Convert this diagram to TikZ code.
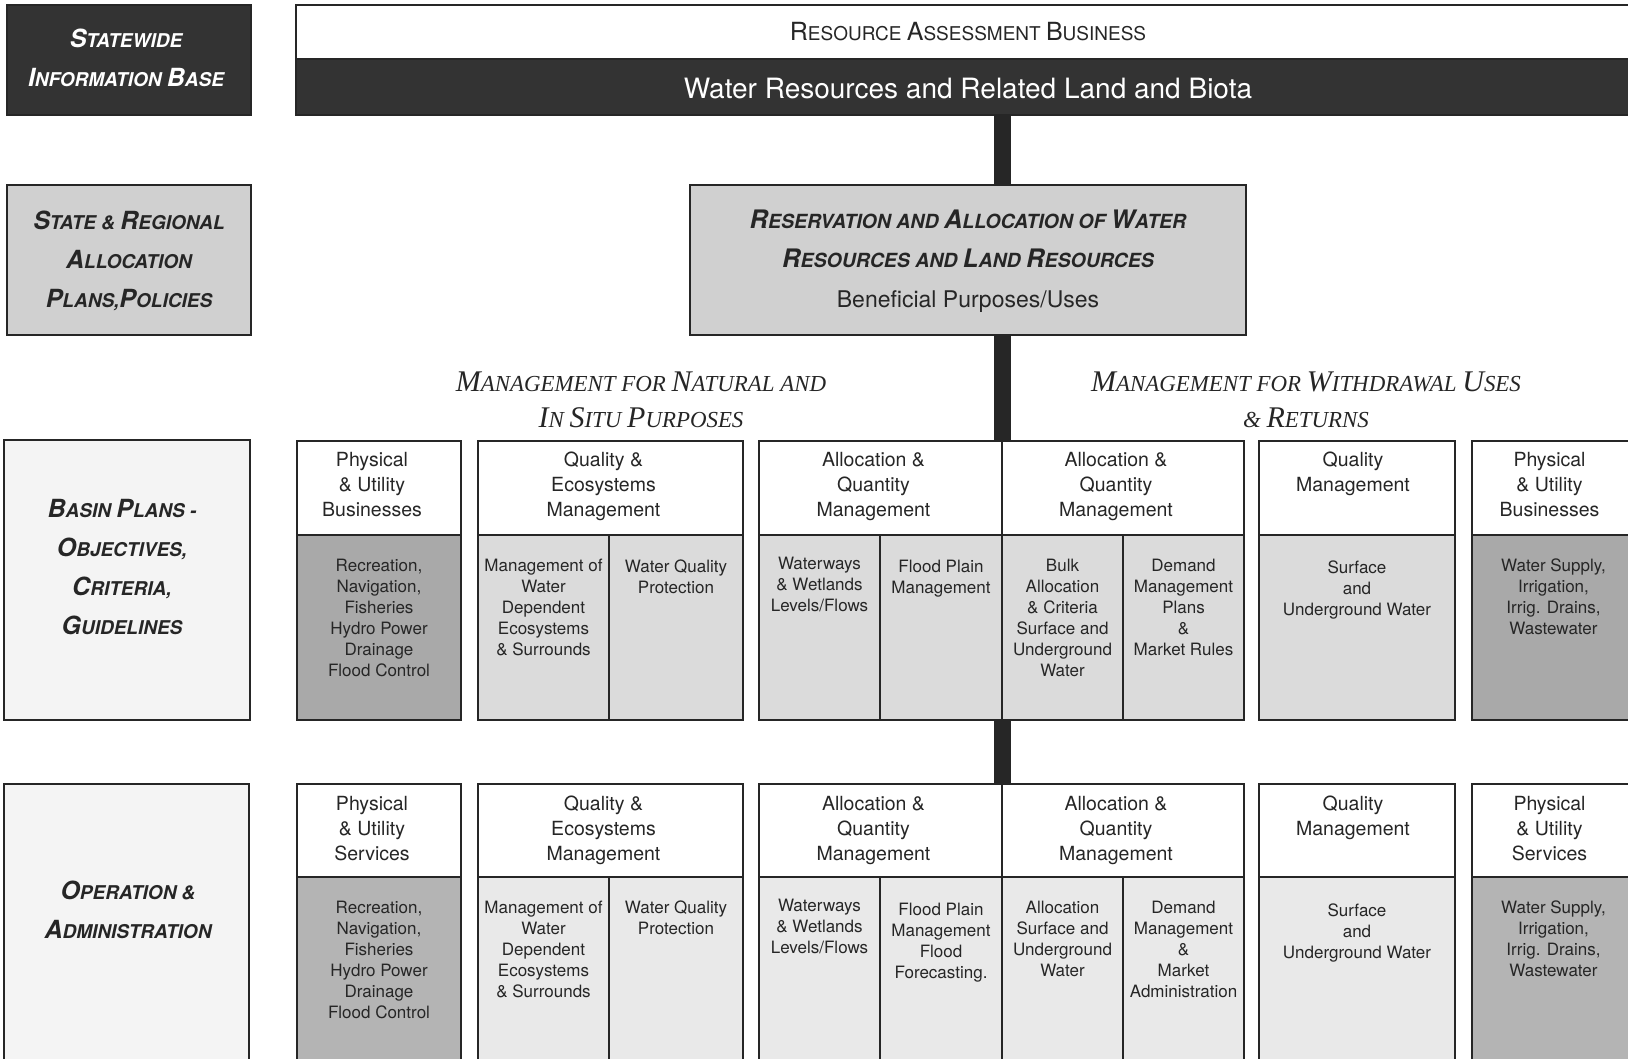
\documentclass[tikz,border=0pt]{standalone}
\usepackage{fontspec}
\setmainfont{TeX Gyre Heros}
\newfontfamily\headfont{Liberation Serif}
\definecolor{ink}{HTML}{262626}
\definecolor{darkfill}{HTML}{333333}
\definecolor{midfill}{HTML}{D0D0D0}
\definecolor{cellA}{HTML}{DBDBDB}
\definecolor{cellB}{HTML}{A9A9A9}
\definecolor{cellC}{HTML}{E9E9E9}
\definecolor{cellD}{HTML}{B4B4B4}
\definecolor{paper}{HTML}{F4F4F4}
\newcommand\Bg[1]{{\fontsize{25}{25}\selectfont #1}}
\newcommand\Bgg[1]{{\fontsize{25.5}{25.5}\selectfont #1}}
\newcommand\Bh[1]{{\fontsize{30}{30}\selectfont #1}}
\newcommand\cellbox[6]{\node[boxframe,#2,minimum width={(#5)-(#3)},minimum height={(#6)-(#4)}] (#1) at (#3,#4) {};}
\begin{document}
\begin{tikzpicture}[x=1pt,y=-1pt,
  boxframe/.style={draw=ink,line width=1.8pt,inner sep=0pt,outer sep=0pt,anchor=north west},
  trunk/.style={draw=ink,line width=17pt},
  lab/.style={inner sep=0pt,align=center,text=ink,font=\fontsize{19}{39}\selectfont\bfseries\itshape},
  head/.style={inner sep=0pt,align=center,text=ink,font=\headfont\itshape\fontsize{22.9}{36}\selectfont},
  htxt/.style={inner sep=0pt,align=center,anchor=north,text=ink,font=\fontsize{19.5}{25}\selectfont},
  ltxt/.style={inner sep=0pt,align=center,anchor=north,text=ink,font=\fontsize{17}{21}\selectfont}]
\useasboundingbox (0,0) rectangle (1628,1058);
\clip (0,0) rectangle (1628,1058);
\fill[white] (0,0) rectangle (1628,1058);

% left column labels
\cellbox{sib}{fill=darkfill}{7}{5}{251}{115}
\cellbox{srap}{fill=midfill}{7}{185}{251}{335}
\cellbox{basin}{fill=paper}{4}{440}{250}{720}
\cellbox{opad}{fill=paper}{4}{784}{249}{1075}

% top band
\cellbox{rab}{fill=white}{296}{5}{1650}{59}
\cellbox{wrl}{fill=darkfill}{296}{59}{1650}{115}

% reservation
\cellbox{res}{fill=midfill}{690}{185}{1246}{335}

% row 3
\cellbox{p3h}{fill=white}{297}{441}{461}{535}
\cellbox{p3l}{fill=cellB}{297}{535}{461}{720}
\cellbox{q3h}{fill=white}{478}{441}{743}{535}
\cellbox{q3la}{fill=cellA}{478}{535}{609}{720}
\cellbox{q3lb}{fill=cellA}{609}{535}{743}{720}
\cellbox{a3h}{fill=white}{759}{441}{1002}{535}
\cellbox{a3la}{fill=cellA}{759}{535}{880}{720}
\cellbox{a3lb}{fill=cellA}{880}{535}{1002}{720}
\cellbox{b3h}{fill=white}{1002}{441}{1244}{535}
\cellbox{b3la}{fill=cellA}{1002}{535}{1123}{720}
\cellbox{b3lb}{fill=cellA}{1123}{535}{1244}{720}
\cellbox{s3h}{fill=white}{1259}{441}{1455}{535}
\cellbox{s3l}{fill=cellA}{1259}{535}{1455}{720}
\cellbox{u3h}{fill=white}{1472}{441}{1635}{535}
\cellbox{u3l}{fill=cellB}{1472}{535}{1635}{720}

% row 4
\cellbox{p4h}{fill=white}{297}{784}{461}{877}
\cellbox{p4l}{fill=cellD}{297}{877}{461}{1075}
\cellbox{q4h}{fill=white}{478}{784}{743}{877}
\cellbox{q4la}{fill=cellC}{478}{877}{609}{1075}
\cellbox{q4lb}{fill=cellC}{609}{877}{743}{1075}
\cellbox{a4h}{fill=white}{759}{784}{1002}{877}
\cellbox{a4la}{fill=cellC}{759}{877}{880}{1075}
\cellbox{a4lb}{fill=cellC}{880}{877}{1002}{1075}
\cellbox{b4h}{fill=white}{1002}{784}{1244}{877}
\cellbox{b4la}{fill=cellC}{1002}{877}{1123}{1075}
\cellbox{b4lb}{fill=cellC}{1123}{877}{1244}{1075}
\cellbox{s4h}{fill=white}{1259}{784}{1455}{877}
\cellbox{s4l}{fill=cellC}{1259}{877}{1455}{1075}
\cellbox{u4h}{fill=white}{1472}{784}{1635}{877}
\cellbox{u4l}{fill=cellD}{1472}{877}{1635}{1075}

% trunk
\draw[trunk] (a3h.north east |- wrl.south) -- (a3h.north east |- res.north);
\draw[trunk] (a3h.north east |- res.south) -- (a3h.north east);
\draw[trunk] (a3lb.south east) -- (a4h.north east);

% label texts
\node[lab,text=white] (sibt) at (126,58) {\Bg{S}TATEWIDE\\\Bg{I}NFORMATION \Bg{B}ASE};
\node[lab] (srapt) at (129,261) {\Bg{S}TATE \& \Bg{R}EGIONAL\\\Bg{A}LLOCATION\\\Bg{P}LANS,\Bg{P}OLICIES};
\node[lab] (basint) at (122,567) {\Bg{B}ASIN \Bg{P}LANS -\\\Bg{O}BJECTIVES,\\\Bg{C}RITERIA,\\\Bg{G}UIDELINES};
\node[lab] (opadt) at (128,910) {\Bg{O}PERATION \&\\\Bg{A}DMINISTRATION};

\node[inner sep=0pt,text=ink,font=\fontsize{19}{19}\selectfont] (rabt) at (968,32) {\Bg{R}ESOURCE \Bg{A}SSESSMENT \Bg{B}USINESS};
\node[inner sep=0pt,text=white,font=\fontsize{28}{28}\selectfont] (wrlt) at (968,89) {Water Resources and Related Land and Biota};

\node[lab,font=\fontsize{19.5}{39}\selectfont\bfseries\itshape] (rest) at (968,239) {\Bgg{R}ESERVATION AND \Bgg{A}LLOCATION OF \Bgg{W}ATER\\\Bgg{R}ESOURCES AND \Bgg{L}AND \Bgg{R}ESOURCES};
\node[inner sep=0pt,text=ink,font=\fontsize{23}{23}\selectfont] (resu) at (968,302) {Beneficial Purposes/Uses};

% headings
\node[head] (hl) at (641,400) {\Bh{M}ANAGEMENT FOR \Bh{N}ATURAL AND\\\Bh{I}N \Bh{S}ITU \Bh{P}URPOSES};
\node[head] (hr) at (1306,400) {\Bh{M}ANAGEMENT FOR \Bh{W}ITHDRAWAL \Bh{U}SES\\\& \Bh{R}ETURNS};

% row 3 texts
\node[htxt] (p3ht) at ([xshift=-7pt,yshift=-11pt]p3h.north) {Physical\\\& Utility\\Businesses};
\node[htxt] (q3ht) at ([xshift=-7pt,yshift=-11pt]q3h.north) {Quality \&\\Ecosystems\\Management};
\node[htxt] (a3ht) at ([xshift=-7pt,yshift=-11pt]a3h.north) {Allocation \&\\Quantity\\Management};
\node[htxt] (b3ht) at ([xshift=-7pt,yshift=-11pt]b3h.north) {Allocation \&\\Quantity\\Management};
\node[htxt] (s3ht) at ([xshift=-4pt,yshift=-11pt]s3h.north) {Quality\\Management};
\node[htxt] (u3ht) at ([xshift=-4pt,yshift=-11pt]u3h.north) {Physical\\\& Utility\\Businesses};

\node[ltxt] (p3lt) at ([yshift=-24pt]p3l.north) {Recreation,\\Navigation,\\Fisheries\\Hydro Power\\Drainage\\Flood Control};
\node[ltxt] (q3lat) at ([yshift=-24pt]q3la.north) {Management of\\Water\\Dependent\\Ecosystems\\\& Surrounds};
\node[ltxt] (q3lbt) at ([yshift=-25pt]q3lb.north) {Water Quality\\Protection};
\node[ltxt] (a3lat) at ([yshift=-22pt]a3la.north) {Waterways\\\& Wetlands\\Levels/Flows};
\node[ltxt] (a3lbt) at ([yshift=-25pt]a3lb.north) {Flood Plain\\Management};
\node[ltxt] (b3lat) at ([yshift=-24pt]b3la.north) {Bulk\\Allocation\\\& Criteria\\Surface and\\Underground\\Water};
\node[ltxt] (b3lbt) at ([yshift=-24pt]b3lb.north) {Demand\\Management\\Plans\\\&\\Market Rules};
\node[ltxt] (s3lt) at ([yshift=-26pt]s3l.north) {Surface\\and\\Underground Water};
\node[ltxt] (u3lt) at ([yshift=-24pt]u3l.north) {Water Supply,\\Irrigation,\\Irrig. Drains,\\Wastewater};

% row 4 texts
\node[htxt] (p4ht) at ([xshift=-7pt,yshift=-12pt]p4h.north) {Physical\\\& Utility\\Services};
\node[htxt] (q4ht) at ([xshift=-7pt,yshift=-12pt]q4h.north) {Quality \&\\Ecosystems\\Management};
\node[htxt] (a4ht) at ([xshift=-7pt,yshift=-12pt]a4h.north) {Allocation \&\\Quantity\\Management};
\node[htxt] (b4ht) at ([xshift=-7pt,yshift=-12pt]b4h.north) {Allocation \&\\Quantity\\Management};
\node[htxt] (s4ht) at ([xshift=-4pt,yshift=-12pt]s4h.north) {Quality\\Management};
\node[htxt] (u4ht) at ([xshift=-4pt,yshift=-12pt]u4h.north) {Physical\\\& Utility\\Services};

\node[ltxt] (p4lt) at ([yshift=-24pt]p4l.north) {Recreation,\\Navigation,\\Fisheries\\Hydro Power\\Drainage\\Flood Control};
\node[ltxt] (q4lat) at ([yshift=-24pt]q4la.north) {Management of\\Water\\Dependent\\Ecosystems\\\& Surrounds};
\node[ltxt] (q4lbt) at ([yshift=-24pt]q4lb.north) {Water Quality\\Protection};
\node[ltxt] (a4lat) at ([yshift=-22pt]a4la.north) {Waterways\\\& Wetlands\\Levels/Flows};
\node[ltxt] (a4lbt) at ([yshift=-26pt]a4lb.north) {Flood Plain\\Management\\Flood\\Forecasting.};
\node[ltxt] (b4lat) at ([yshift=-24pt]b4la.north) {Allocation\\Surface and\\Underground\\Water};
\node[ltxt] (b4lbt) at ([yshift=-24pt]b4lb.north) {Demand\\Management\\\&\\Market\\Administration};
\node[ltxt] (s4lt) at ([yshift=-27pt]s4l.north) {Surface\\and\\Underground Water};
\node[ltxt] (u4lt) at ([yshift=-24pt]u4l.north) {Water Supply,\\Irrigation,\\Irrig. Drains,\\Wastewater};
\end{tikzpicture}
\end{document}
